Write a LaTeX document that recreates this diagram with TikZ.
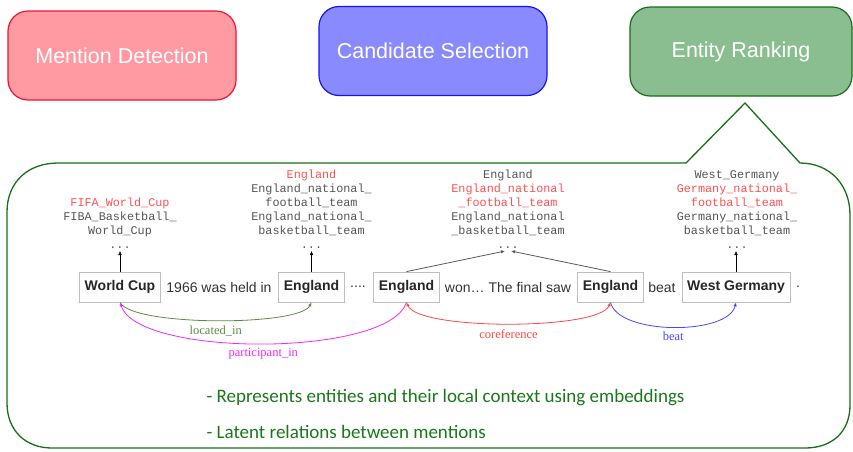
\documentclass[tikz,border=0pt]{standalone}
\usepackage{fontspec}
\usetikzlibrary{arrows.meta}
\newfontfamily\boxfont{Liberation Sans}
\newfontfamily\candfont{Liberation Mono}
\newfontfamily\relfont{Liberation Serif}
\newfontfamily\notefont{Carlito}
\definecolor{mdfill}{RGB}{255,154,162}
\definecolor{mdline}{RGB}{238,20,50}
\definecolor{csfill}{RGB}{138,138,255}
\definecolor{csline}{RGB}{20,20,240}
\definecolor{erfill}{RGB}{138,190,145}
\definecolor{erline}{RGB}{25,110,25}
\definecolor{candgray}{RGB}{85,85,85}
\definecolor{candred}{RGB}{255,80,80}
\definecolor{locgreen}{RGB}{90,140,60}
\definecolor{partmag}{RGB}{245,40,245}
\definecolor{corefred}{RGB}{255,70,70}
\definecolor{beatblue}{RGB}{70,70,255}
\definecolor{notegreen}{RGB}{25,120,25}
\tikzset{
  stage/.style={rounded corners=20pt, line width=1.2pt, minimum width=228pt,
    minimum height=89pt, text=white, font=\boxfont\fontsize{21.5}{24}\selectfont},
  mention/.style={draw=black!25, line width=0.8pt, inner xsep=5pt,
    minimum height=30pt, font=\boxfont\bfseries\fontsize{14}{16}\selectfont, text=black!85},
  word/.style={font=\boxfont\fontsize{14}{16}\selectfont, text=black!80},
  cand/.style={align=center, inner sep=2pt, anchor=south, text=candgray,
    font=\candfont\fontsize{11.8}{14}\selectfont},
  rel/.style={font=\relfont\fontsize{12.5}{14}\selectfont},
  tip/.style={-{Latex[length=4pt,width=3.5pt]}},
  note/.style={anchor=west, text=notegreen, font=\notefont\fontsize{19}{22}\selectfont}
}
\begin{document}
\begin{tikzpicture}[x=1pt, y=-1pt]
  \useasboundingbox (0,0) rectangle (853,451);
  % pipeline stages
  \node[stage, fill=mdfill, draw=mdline] (md) at (122,55.5) {Mention Detection};
  \node[stage, fill=csfill, draw=csline] (cs) at (433,51) {Candidate Selection};
  \node[stage, fill=erfill, draw=erline, minimum width=222pt] (er) at (741,51.5) {Entity Ranking};
  % callout
  \draw[erline, line width=1.3pt] (686,163) -- (745,103) -- (800,163)
    .. controls (830,163) and (850,185) .. (850,215) -- (850,405)
    .. controls (850,432) and (832,448) .. (805,448) -- (52,448)
    .. controls (25,448) and (7,430) .. (7,403) -- (7,212)
    .. controls (7,182) and (28,163) .. (58,163) -- cycle;
  % mentions and text
  \node[mention] (wc) at (120,287) {World Cup};
  \node[word] (t1) at (219,287) {1966 was held in};
  \node[mention] (e1) at (311.5,287) {England};
  \node[word] (t2) at (358,287) {....};
  \node[mention] (e2) at (406.5,287) {England};
  \node[word] (t3) at (508,287) {won… The final saw};
  \node[mention] (e3) at (610.5,287) {England};
  \node[word] (t4) at (662,287) {beat};
  \node[mention] (wg) at (736,287) {West Germany};
  \node[word] (t5) at (798,287) {.};
  % candidates
  \node[cand] (c1) at (120,251) {\textcolor{candred}{FIFA\_World\_Cup}\\FIBA\_Basketball\_\\World\_Cup\\...};
  \node[cand] (c2) at (311.5,251) {\textcolor{candred}{England}\\England\_national\_\\football\_team\\England\_national\_\\basketball\_team\\...};
  \node[cand] (c3) at (508,251) {England\\\textcolor{candred}{England\_national}\\\textcolor{candred}{\_football\_team}\\England\_national\\\_basketball\_team\\...};
  \node[cand] (c4) at (737,251) {West\_Germany\\\textcolor{candred}{Germany\_national\_}\\\textcolor{candred}{football\_team}\\Germany\_national\_\\basketball\_team\\...};
  \draw[tip] (wc.north) -- (c1.south);
  \draw[tip] (e1.north) -- (c2.south);
  \draw[tip] (wg.north) -- ([xshift=-1pt]c4.south);
  \draw[tip, black!65, line width=0.8pt] (e2.north) -- ([xshift=-3pt]c3.south);
  \draw[tip, black!65, line width=0.8pt] (e3.north) -- ([xshift=3pt]c3.south);
  % relations
  \draw[tip, locgreen, line width=0.8pt] (wc.south) .. controls +(12,24) and +(-12,24) .. (e1.south)
    node[rel, pos=0.5, below=2pt] {located\_in};
  \draw[tip, partmag, line width=0.8pt] (e2.south) .. controls +(-18,55) and +(18,55) .. (wc.south)
    node[rel, pos=0.5, below=1pt] {participant\_in};
  \draw[{Latex[length=4pt,width=3.5pt]}-{Latex[length=4pt,width=3.5pt]}, corefred, line width=0.8pt]
    (e2.south) .. controls +(12,28) and +(-12,28) .. (e3.south)
    node[rel, pos=0.5, below=3pt] {coreference};
  \draw[tip, beatblue, line width=0.8pt] (e3.south) .. controls +(8,33) and +(-8,33) .. (wg.south)
    node[rel, pos=0.5, below=1pt] {beat};
  % notes
  \node[note] (n1) at (203,398) {- Represents entities and their local context using embeddings};
  \node[note] (n2) at (203,432) {- Latent relations between mentions};
\end{tikzpicture}
\end{document}
